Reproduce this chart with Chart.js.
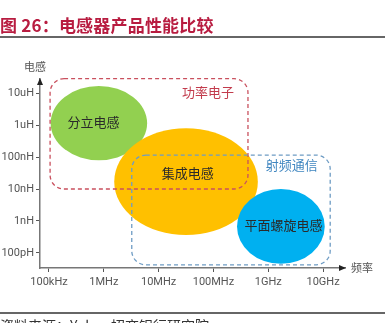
<!DOCTYPE html>
<html>
<head>
<meta charset="utf-8">
<script src="https://cdn.jsdelivr.net/npm/chart.js@4"></script>
<style>
  body { margin: 0; background: #fff; }
  #wrap { position: relative; width: 385px; height: 323px; overflow: hidden; font-family: "Noto Sans CJK SC", sans-serif; }
  #title { position: absolute; left: 0; top: 14px; font-size: 17px; font-weight: bold; color: #b81c40; line-height: 22px; white-space: nowrap; letter-spacing: 0.2px; }
  .rule { position: absolute; left: 0; width: 385px; height: 2px; background: #666; }
  #source { position: absolute; left: 0; top: 315px; font-size: 14px; color: #333; line-height: 20px; white-space: nowrap; }
  canvas { position: absolute; left: 0; top: 0; }
</style>
</head>
<body>
<div id="wrap">
  <canvas id="mycanvas" width="385" height="323"></canvas>
  <div id="title">图 26：电感器产品性能比较</div>
  <div class="rule" style="top:36px"></div>
  <div class="rule" style="top:312px"></div>
  <div id="source">资料来源：Yole，招商银行研究院</div>
</div>
<script>
// axes are in decades: log10(Hz) and log10(H)
var freqTicks = [5, 6, 7, 8, 9, 10];
var freqLabels = ['100kHz', '1MHz', '10MHz', '100MHz', '1GHz', '10GHz'];
var indTicks = [-10, -9, -8, -7, -6, -5];
var indLabels = ['100pH', '1nH', '10nH', '100nH', '1uH', '10uH'];

// inductor types: centre and half size of each ellipse
var products = ['分立电感', '集成电感', '平面螺旋电感'];
var prodFreq = [5.91, 7.50, 9.23];
var prodInd = [-5.94, -7.77, -9.17];
var prodFreqHalf = [0.88, 1.31, 0.80];
var prodIndHalf = [1.16, 1.67, 1.17];
var prodLabelFreq = [5.81, 7.53, 9.28];
var prodLabelInd = [-5.91, -7.50, -9.12];

// application areas
var zones = ['功率电子', '射频通信'];
var zoneFreqFrom = [5.02, 6.51];
var zoneFreqTo = [8.63, 10.13];
var zoneIndFrom = [-8.0, -10.37];
var zoneIndTo = [-4.55, -6.94];
var zoneLabelFreq = [7.90, 9.43];
var zoneLabelInd = [-4.97, -7.25];

var prodColors = ['#92d050', '#ffc000', '#00b0f0'];
var zoneColors = ['#c9505e', '#6e9cc4'];
var zoneTextColors = ['#c23b4c', '#3f86c0'];

var cjk = '"Noto Sans CJK SC", sans-serif';

function roundRect(ctx, x, y, w, h, r) {
  ctx.beginPath();
  ctx.moveTo(x + r, y);
  ctx.lineTo(x + w - r, y);
  ctx.arcTo(x + w, y, x + w, y + r, r);
  ctx.lineTo(x + w, y + h - r);
  ctx.arcTo(x + w, y + h, x + w - r, y + h, r);
  ctx.lineTo(x + r, y + h);
  ctx.arcTo(x, y + h, x, y + h - r, r);
  ctx.lineTo(x, y + r);
  ctx.arcTo(x, y, x + r, y, r);
  ctx.closePath();
}

var bubbles = {
  id: 'bubbles',
  afterDatasetsDraw: function(chart) {
    var ctx = chart.ctx;
    var sx = chart.scales.x, sy = chart.scales.y;
    ctx.save();

    for (var i = 0; i < products.length; i++) {
      var cx = sx.getPixelForValue(prodFreq[i]);
      var cy = sy.getPixelForValue(prodInd[i]);
      var rx = Math.abs(sx.getPixelForValue(prodFreq[i] + prodFreqHalf[i]) - cx);
      var ry = Math.abs(sy.getPixelForValue(prodInd[i] + prodIndHalf[i]) - cy);
      ctx.beginPath();
      ctx.ellipse(cx, cy, rx, ry, 0, 0, Math.PI * 2);
      ctx.fillStyle = prodColors[i];
      ctx.fill();
    }

    ctx.lineWidth = 1.3;
    ctx.setLineDash([4, 3]);
    for (var j = 0; j < zones.length; j++) {
      var x0 = sx.getPixelForValue(zoneFreqFrom[j]);
      var x1 = sx.getPixelForValue(zoneFreqTo[j]);
      var y0 = sy.getPixelForValue(zoneIndTo[j]);
      var y1 = sy.getPixelForValue(zoneIndFrom[j]);
      roundRect(ctx, x0, y0, x1 - x0, y1 - y0, 14);
      ctx.strokeStyle = zoneColors[j];
      ctx.stroke();
    }
    ctx.setLineDash([]);

    ctx.textAlign = 'center';
    ctx.textBaseline = 'middle';
    ctx.font = '13px ' + cjk;
    ctx.fillStyle = '#2a2a2a';
    for (var k = 0; k < products.length; k++) {
      ctx.fillText(products[k], sx.getPixelForValue(prodLabelFreq[k]), sy.getPixelForValue(prodLabelInd[k]));
    }
    for (var m = 0; m < zones.length; m++) {
      ctx.fillStyle = zoneTextColors[m];
      ctx.fillText(zones[m], sx.getPixelForValue(zoneLabelFreq[m]), sy.getPixelForValue(zoneLabelInd[m]));
    }
    ctx.restore();
  },
  afterDraw: function(chart) {
    // arrow heads and axis names
    var ctx = chart.ctx;
    var a = chart.chartArea;
    ctx.save();
    ctx.fillStyle = '#222';
    ctx.beginPath();
    ctx.moveTo(a.left, a.top - 1);
    ctx.lineTo(a.left - 3, a.top + 6);
    ctx.lineTo(a.left + 3, a.top + 6);
    ctx.closePath();
    ctx.fill();
    ctx.beginPath();
    ctx.moveTo(a.right + 1, a.bottom);
    ctx.lineTo(a.right - 6, a.bottom - 3);
    ctx.lineTo(a.right - 6, a.bottom + 3);
    ctx.closePath();
    ctx.fill();

    ctx.fillStyle = '#555';
    ctx.font = '11px ' + cjk;
    ctx.textAlign = 'center';
    ctx.textBaseline = 'middle';
    ctx.fillText('电感', a.left - 5, a.top - 12);
    ctx.fillText('频率', a.right + 17, a.bottom);
    ctx.restore();
  }
};

var ctx = document.getElementById('mycanvas');

var chart = new Chart(ctx, {
  type: 'scatter',
  data: { datasets: [] },
  options: {
    responsive: false,
    animation: false,
    events: [],
    layout: { padding: { top: 79, right: 40, bottom: 30, left: 0 } },
    plugins: { legend: { display: false }, tooltip: { enabled: false } },
    scales: {
      x: {
        type: 'linear',
        min: 4.836,
        max: 10.4,
        afterBuildTicks: function(s) { s.ticks = freqTicks.map(function(v) { return { value: v }; }); },
        afterFit: function(s) { s.height = 25; },
        ticks: {
          autoSkip: false,
          maxRotation: 0,
          padding: 4,
          color: '#555',
          font: { size: 11, family: 'Roboto, sans-serif' },
          callback: function(v, i) { return freqLabels[i]; }
        },
        grid: { drawOnChartArea: false, drawTicks: true, tickLength: 4, color: '#555' },
        border: { display: true, color: '#777', width: 1.5 }
      },
      y: {
        type: 'linear',
        min: -10.47,
        max: -4.56,
        afterBuildTicks: function(s) { s.ticks = indTicks.map(function(v) { return { value: v }; }); },
        afterFit: function(s) { s.width = 40; },
        ticks: {
          autoSkip: false,
          padding: 2,
          color: '#555',
          font: { size: 11, family: 'Roboto, sans-serif' },
          callback: function(v, i) { return indLabels[i]; }
        },
        grid: { drawOnChartArea: false, drawTicks: true, tickLength: 4, color: '#555' },
        border: { display: true, color: '#777', width: 1.5 }
      }
    }
  },
  plugins: [bubbles]
});
</script>
</body>
</html>
